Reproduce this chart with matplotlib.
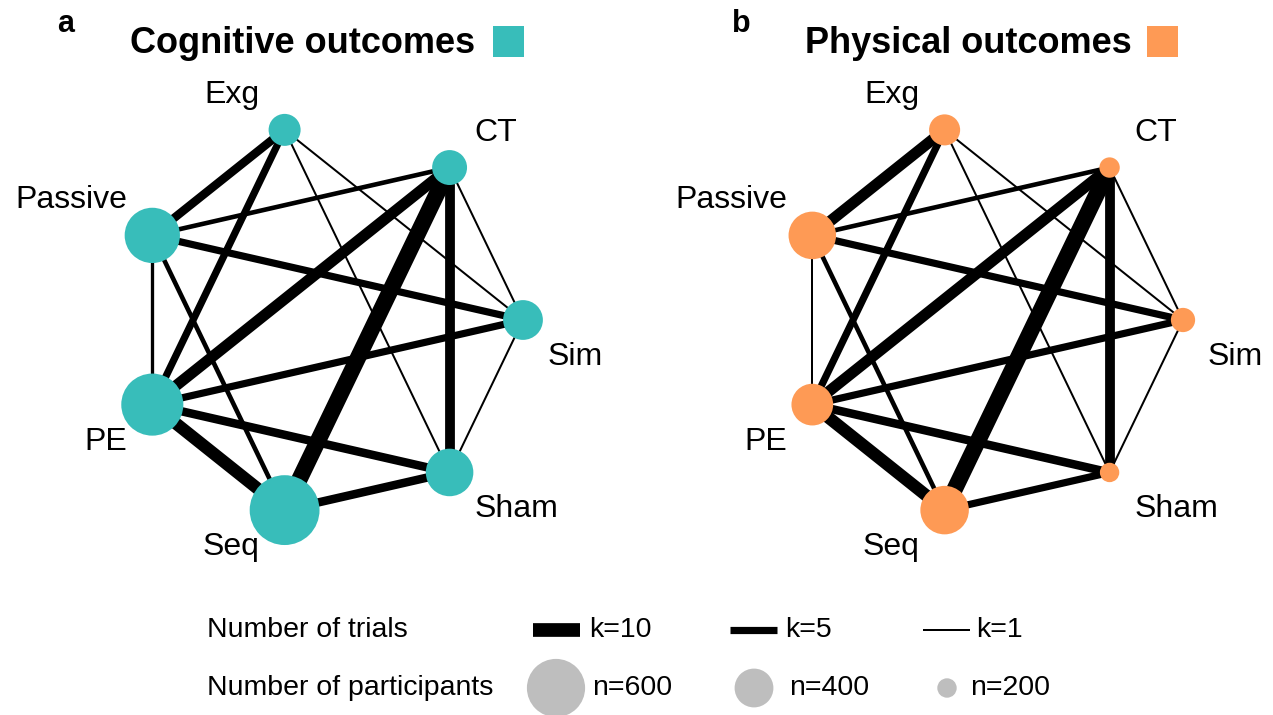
import numpy as np
import matplotlib
matplotlib.use('Agg')
import matplotlib.pyplot as plt
from matplotlib.patches import Rectangle

plt.rcParams['font.family'] = ['Liberation Sans', 'DejaVu Sans']

# treatments round the circle, starting at the right and going anticlockwise
nodes = ['Sim', 'CT', 'Exg', 'Passive', 'PE', 'Seq', 'Sham']

# participants per treatment
n_cog = [410, 360, 330, 570, 640, 720, 490]
n_phys = [250, 210, 320, 490, 430, 500, 200]

# number of trials per direct comparison
pairs = [('Exg', 'Passive'), ('Exg', 'PE'), ('Exg', 'Sim'), ('Exg', 'Sham'),
         ('CT', 'Passive'), ('CT', 'PE'), ('CT', 'Seq'), ('CT', 'Sham'), ('CT', 'Sim'),
         ('Passive', 'Sim'), ('Passive', 'PE'), ('Passive', 'Seq'),
         ('PE', 'Sim'), ('PE', 'Sham'), ('PE', 'Seq'),
         ('Seq', 'Sham'), ('Sim', 'Sham')]
k_cog = [6, 5, 1, 1, 3, 8, 12, 7, 1, 5, 2, 3, 5, 6, 9, 6, 1]
k_phys = [8, 5, 1, 1, 3, 8, 12, 7, 1, 5, 1, 3, 5, 6, 9, 5, 1]

legend_k = [10, 5, 1]
legend_n = [600, 400, 200]

teal = '#38bdba'
orange = '#fe9a55'

W, H = 1273, 715
R = 195      # pixels per unit of circle radius
L = 1.45     # half extent of each panel in circle units


def lw(k):
    # edge width in points from number of trials
    return (1.3 * k + 0.7) * 0.72


def msize(n):
    # marker area in points^2 from number of participants
    return (0.097 * n * 0.72) ** 2


fig = plt.figure(figsize=(W / 100, H / 100), dpi=100)

# legend axes in pixel coordinates
lax = fig.add_axes([0, 0, 1, 1])
lax.set_xlim(0, W)
lax.set_ylim(H, 0)
lax.axis('off')

y1, y2 = 630, 688
fs_leg = 20.5
lax.text(207, y1, 'Number of trials', fontsize=fs_leg, va='center')
lax.text(207, y2, 'Number of participants', fontsize=fs_leg, va='center')
for k, x0, xt in zip(legend_k, [533, 730, 923], [589, 785, 976]):
    lax.plot([x0, x0 + 47], [y1, y1], color='black', lw=lw(k), solid_capstyle='butt')
    lax.text(xt, y1, f'k={k}', fontsize=fs_leg, va='center')
for n, xc, xt in zip(legend_n, [556, 754, 947], [592, 789, 970]):
    lax.scatter([xc], [y2], s=msize(n), color='#bebebe', edgecolors='none', clip_on=False)
    lax.text(xt, y2, f'n={n}', fontsize=fs_leg, va='center')


def draw_panel(cx, letter, title, color, n_vals, k_vals, title_x, sq_x):
    ax = fig.add_axes([(cx - L * R) / W, (H - 320 - L * R) / H, 2 * L * R / W, 2 * L * R / H])
    ax.set_xlim(-L, L)
    ax.set_ylim(-L, L)
    ax.axis('off')
    ang = 2 * np.pi * np.arange(len(nodes)) / len(nodes)
    pos = {nm: (np.cos(a), np.sin(a)) for nm, a in zip(nodes, ang)}
    for (a, b), k in zip(pairs, k_vals):
        ax.plot([pos[a][0], pos[b][0]], [pos[a][1], pos[b][1]], color='black',
                lw=lw(k), solid_capstyle='butt', zorder=1)
    xs = [pos[nm][0] for nm in nodes]
    ys = [pos[nm][1] for nm in nodes]
    ax.scatter(xs, ys, s=[msize(n) for n in n_vals], color=color, edgecolors='none', zorder=2)
    for nm, a in zip(nodes, ang):
        left = np.cos(a) < -0.1
        up = np.sin(a) > 0.2
        ax.annotate(nm, pos[nm], xytext=(-25 if left else 25, 35 if up else -37),
                    textcoords='offset pixels', ha='right' if left else 'left',
                    va='center', fontsize=23)
    fig.text(title_x - 73 / W, 1 - 32 / H, letter, fontsize=22, fontweight='bold', va='baseline')
    fig.text(title_x, 1 - 53 / H, title, fontsize=26, fontweight='bold', va='baseline')
    fig.add_artist(Rectangle((sq_x, 1 - 57 / H), 31 / W, 31 / H, transform=fig.transFigure,
                             color=color, lw=0))


draw_panel(328, 'a', 'Cognitive outcomes', teal, n_cog, k_cog, 130 / W, 493 / W)
draw_panel(988, 'b', 'Physical outcomes', orange, n_phys, k_phys, 805 / W, 1147 / W)

fig.savefig('out.png', dpi=100)
